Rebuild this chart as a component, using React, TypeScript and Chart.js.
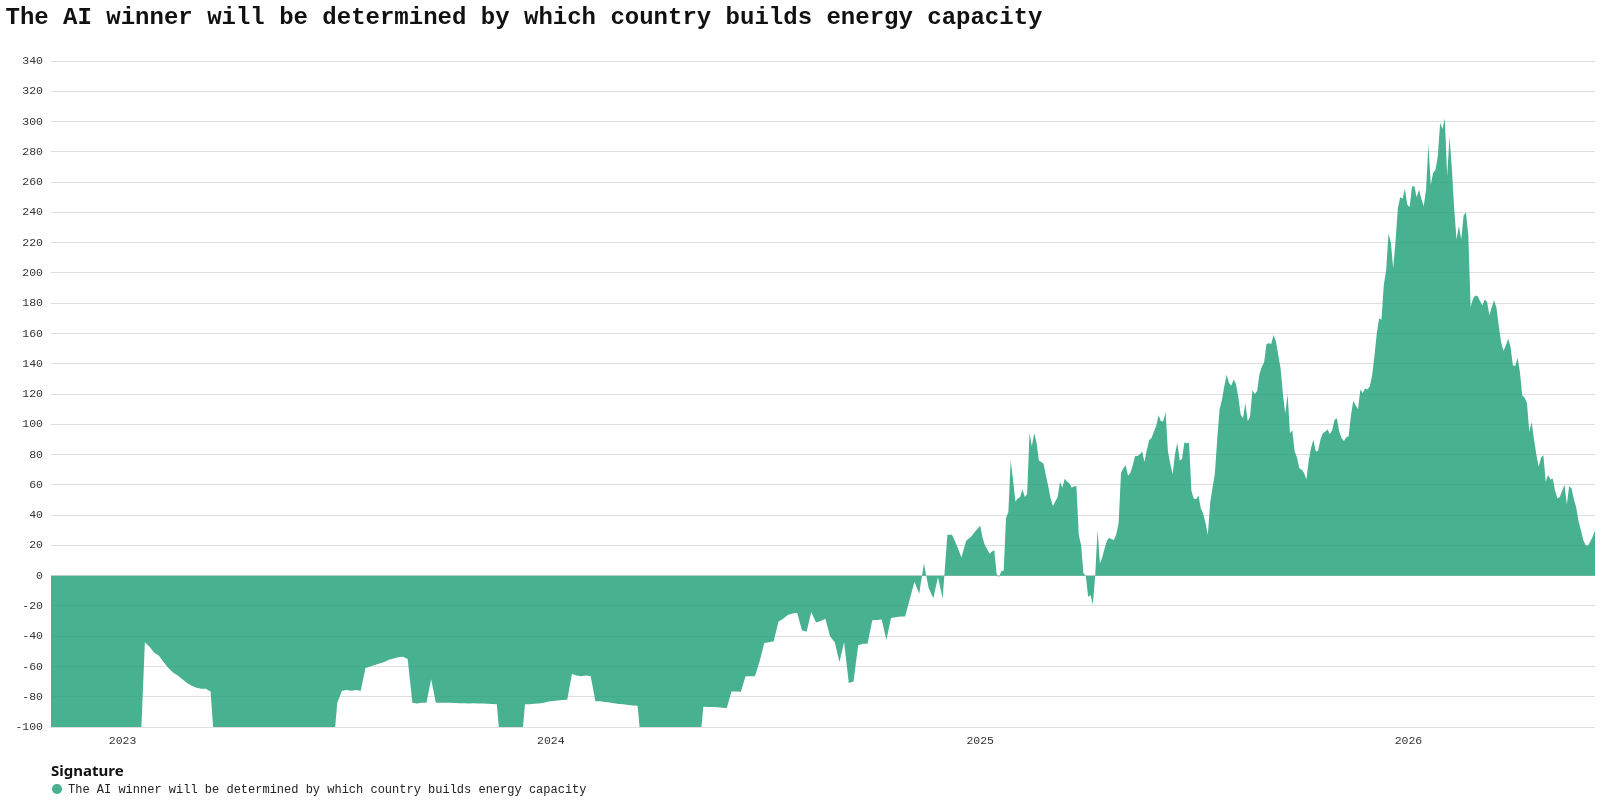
import React, { useEffect, useRef } from 'react';
import Chart from 'chart.js/auto';

const DAY_MS = 86400000;

// Nov 2022 - Dec 2024: one reading every 4 days, from 1 Nov 2022
const COARSE_START = Date.UTC(2022, 10, 1);
const COARSE_STEP_DAYS = 4;
// 2025 - 2026: one reading every 2 days, from 1 Jan 2025
const FINE_START = Date.UTC(2025, 0, 1);
const FINE_STEP_DAYS = 2;

// values; -120 stands for "below the -100 floor" (cut by the axis)
const values2022 = [
    -120, -120, -120, -120, -120, -120, -120, -120, -120, -120,
    -120, -120, -120, -120, -120, -120,
];

const values2023 = [
    -120, -120, -120, -120,
    -44, -47, -51, -53, -57, -61, -64, -66, -68.5, -71,
    -72.8, -74, -74.7, -74.7, -76.5, -120, -120, -120, -120, -120,
    -120, -120, -120, -120, -120, -120, -120, -120, -120, -120,
    -120, -120, -120, -120, -120, -120, -120, -120, -120, -120,
    -120, -84, -76, -75.5, -76, -75.5, -76, -61, -60, -59,
    -58, -57, -55.5, -54.7, -54, -53.6, -55, -84, -84.5, -84,
    -84, -68.5, -84, -84, -84, -84, -84.2, -84.3, -84.3, -84.5,
    -84.3, -84.5, -84.4, -84.6, -84.8, -85, -120, -120, -120, -120,
    -120, -85, -85, -84.7, -84.5, -84, -83.2,
];

const values2024 = [
    -82.8, -82.5, -82.2,
    -82, -65, -66, -66.5, -66, -66.5, -83, -83, -83.5, -83.8,
    -84.3, -84.8, -85, -85.5, -85.8, -86, -120, -120, -120, -120,
    -120, -120, -120, -120, -120, -120, -120, -120, -120, -86.6,
    -86.8, -86.8, -87, -87.3, -87.5, -76.5, -76.5, -76.7, -66.5, -66.5,
    -66.5, -56.5, -44.5, -44, -43.3, -30.5, -28.5, -26, -25, -24.6,
    -36, -37, -24, -31, -30, -28.5, -40, -44, -57, -44,
    -71, -70, -46, -45, -45, -29.5, -29.3, -29, -42.6, -28,
    -27.5, -27, -27, -15.5, -4, -12, 8, -8, -15, -1,
    -15, 27, 27, 20, 12, 23, 25.5, 29.5,
];

const values2025 = [
    33, 25, 20, 17.5, 14.5, 16, 16.7, 1, -1, 3,
    3.3, 38, 42, 76, 63, 49, 51, 52, 57, 52,
    54, 94, 85.5, 94, 88, 76, 75, 74, 66, 59,
    51, 46, 49, 52, 62, 58, 64, 62, 61, 58,
    59, 59, 27, 20, 1.5, 0, -14, -13, -19, 0,
    30, 8, 12, 18, 23, 25, 24, 23.5, 27.5, 35,
    68, 71, 73, 66, 68, 73, 79, 79, 80, 82,
    75, 83, 89.5, 91, 95, 99, 106, 102, 102, 108,
    82, 74, 67, 80, 88, 76, 77, 88, 87.5, 88,
    56, 51, 50.5, 53, 44.5, 41, 35, 27, 48, 58,
    67.5, 90, 110, 116, 125, 132.7, 127.5, 125.5, 129.5, 126.5,
    118, 106.5, 104, 114, 102, 105, 122.5, 120, 122, 133,
    138, 141, 153, 153.5, 153, 159, 155, 146, 137, 120,
    107, 120, 94, 96, 82, 78, 71, 70, 68, 63.5,
    76, 84.5, 89.8, 82, 82.5, 90, 94, 95, 96.5, 93.5,
    96, 103, 104, 95, 91, 89, 91.5, 92, 106, 115.5,
    112.5, 110, 123, 120.5, 123.7, 123, 125, 132, 145, 160,
    170, 169, 192, 202, 226, 220, 203, 221, 243, 250,
    249, 255.6, 245,
];

const values2026 = [
    243.5, 257, 257.5, 250, 255, 249, 244,
    255, 285, 258, 266, 268, 277, 299, 295, 302, 264,
    290, 269, 242, 222, 231, 222, 238, 240, 225, 177.4,
    183, 185, 184.5, 181.5, 178.5, 182.5, 181, 172, 177.5, 182,
    177, 165, 154, 148.5, 152, 156.5, 151, 139, 138.5, 144,
    134.5, 119, 117.5, 114, 95, 101.5, 90, 80, 72, 78,
    79.5, 62, 66.5, 63.5, 64, 56, 51, 52, 56, 60,
    47, 59, 57.6, 50.5, 45, 36, 30, 23.5, 20, 19.8,
    22.5, 25.7, 30,
];

const yearTicks = [2023, 2024, 2025, 2026];

const Y_MIN = -100;
const Y_MAX = 340;
const Y_STEP = 20;

const chartTitle = 'The AI winner will be determined by which country builds energy capacity';
const legendTitle = 'Signature';
const seriesLabel = 'The AI winner will be determined by which country builds energy capacity';

const FILL = 'rgba(26, 157, 117, 0.8)';
const MONO = '"Liberation Mono", "DejaVu Sans Mono", monospace';

const App: React.FC = () => {
    const chartRef = useRef<HTMLCanvasElement>(null);
    const chartInstance = useRef<Chart | null>(null);

    useEffect(() => {
        if (!chartRef.current) return;
        const ctx = chartRef.current.getContext('2d');
        if (!ctx) return;

        const coarse = [...values2022, ...values2023, ...values2024]
            .map((v, i) => ({ x: COARSE_START + i * COARSE_STEP_DAYS * DAY_MS, y: v }));
        const fine = [...values2025, ...values2026]
            .map((v, i) => ({ x: FINE_START + i * FINE_STEP_DAYS * DAY_MS, y: v }));
        const points = [...coarse, ...fine];
        const lastX = points[points.length - 1].x;

        chartInstance.current = new Chart(ctx, {
            type: 'line',
            data: {
                datasets: [{
                    label: seriesLabel,
                    data: points,
                    fill: 'origin',
                    backgroundColor: FILL,
                    borderWidth: 0,
                    borderColor: FILL,
                    pointRadius: 0,
                    tension: 0,
                }]
            },
            options: {
                responsive: false,
                animation: false,
                layout: { padding: { top: 61, right: 5, bottom: 43, left: 0 } },
                plugins: {
                    legend: { display: false },
                    title: { display: false },
                    tooltip: { enabled: false },
                },
                scales: {
                    x: {
                        type: 'linear',
                        min: COARSE_START,
                        max: lastX,
                        grid: { display: false, drawTicks: false },
                        border: { display: false },
                        afterBuildTicks: (scale: any) => {
                            scale.ticks = yearTicks.map(y => ({ value: Date.UTC(y, 0, 1) }));
                        },
                        afterFit: (scale: any) => { scale.height = 30; },
                        ticks: {
                            autoSkip: false,
                            maxRotation: 0,
                            padding: 7,
                            color: '#333',
                            font: { family: MONO, size: 11.5 },
                            callback: (v: any) => String(new Date(Number(v)).getUTCFullYear()),
                        },
                    },
                    y: {
                        min: Y_MIN,
                        max: Y_MAX,
                        grid: { color: '#dedede', drawTicks: false },
                        border: { display: false },
                        afterFit: (scale: any) => { scale.width = 51; },
                        ticks: {
                            stepSize: Y_STEP,
                            padding: 8,
                            color: '#333',
                            font: { family: MONO, size: 11.5 },
                        },
                    },
                },
            },
        });

        return () => {
            if (chartInstance.current) {
                chartInstance.current.destroy();
                chartInstance.current = null;
            }
        };
    }, []);

    return (
        <div style={{ position: 'absolute', left: 0, top: 0, width: 1600, height: 800, background: '#fff' }}>
            <canvas ref={chartRef} width={1600} height={800} style={{ position: 'absolute', left: 0, top: 0, width: 1600, height: 800 }}></canvas>
            <div style={{ position: 'absolute', left: 5.5, top: 3.6, fontFamily: MONO, fontWeight: 700, fontSize: 24, lineHeight: '28px', color: '#111', whiteSpace: 'nowrap' }}>
                {chartTitle}
            </div>
            <div style={{ position: 'absolute', left: 51, top: 760, fontFamily: '"Noto Sans", sans-serif', fontWeight: 700, fontSize: 15, lineHeight: '20px', color: '#111' }}>
                {legendTitle}
            </div>
            <span style={{ position: 'absolute', left: 52, top: 784.3, width: 9.5, height: 9.5, borderRadius: '50%', background: FILL }}></span>
            <div style={{ position: 'absolute', left: 68, top: 782, fontFamily: MONO, fontSize: 12, lineHeight: '16px', color: '#222', whiteSpace: 'nowrap' }}>
                {seriesLabel}
            </div>
        </div>
    );
};

export default App;
